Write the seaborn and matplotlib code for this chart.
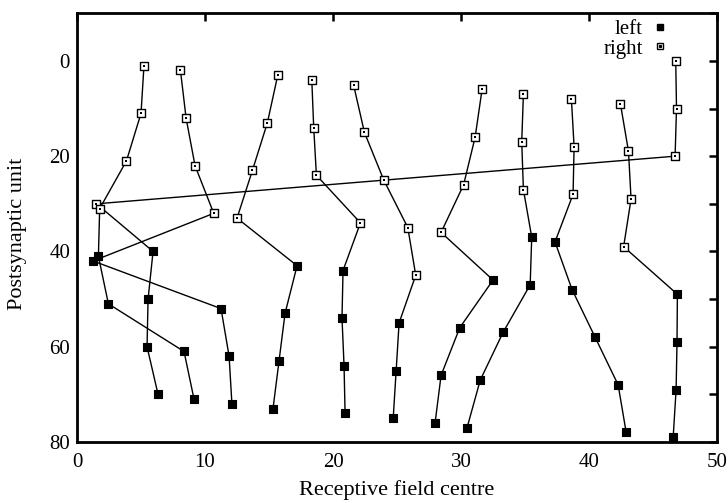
import numpy as np
import pandas as pd
import matplotlib
matplotlib.use("Agg")
import matplotlib.pyplot as plt
from matplotlib.lines import Line2D
import seaborn as sns

# Receptive field centre of each postsynaptic unit (index = unit number)
rf_centre = [
    46.77, 5.23, 8.08, 15.68, 18.34, 21.60, 31.64, 34.87, 38.62, 42.45,
    46.83, 5.00, 8.52, 14.87, 18.49, 22.45, 31.10, 34.74, 38.83, 43.08,
    46.72, 3.86, 9.22, 13.70, 18.70, 23.96, 30.20, 34.87, 38.75, 43.28,
    1.52, 1.77, 10.68, 12.50, 22.14, 25.84, 28.44, 35.52, 37.34, 42.70,
    5.94, 1.67, 1.25, 17.19, 20.78, 26.46, 32.50, 35.40, 38.67, 46.90,
    5.55, 2.45, 11.25, 16.25, 20.70, 25.16, 29.90, 33.28, 40.47, 46.87,
    5.47, 8.36, 11.88, 15.78, 20.86, 24.93, 28.44, 31.50, 42.27, 46.80,
    6.33, 9.14, 12.10, 15.31, 20.94, 24.70, 27.97, 30.47, 42.90, 46.57,
]
# Units dominated by the right eye (open squares); the rest are left
right_units = list(range(0, 37)) + [39, 45]
x_ticks = [0, 10, 20, 30, 40, 50]
y_ticks = [0, 20, 40, 60, 80]

units = np.arange(len(rf_centre))
df = pd.DataFrame({
    "unit": units,
    "centre": rf_centre,
    "column": units % 10,
    "eye": ["right" if u in right_units else "left" for u in units],
})
df = df.sort_values(["column", "unit"]).reset_index(drop=True)

sns.set_theme(style="white")
plt.rcParams["font.family"] = ["Liberation Serif", "DejaVu Serif"]
plt.rcParams["text.color"] = "black"

fig = plt.figure(figsize=(7.28, 5.03), dpi=100)
ax = fig.add_axes([0.1058, 0.1213, 0.8792, 0.8523])

sns.lineplot(data=df, x="centre", y="unit", units="column", estimator=None,
             sort=False, color="black", lw=1.0, ax=ax, legend=False)

left = df[df["eye"] == "left"]
right = df[df["eye"] == "right"]
sns.scatterplot(data=left, x="centre", y="unit", marker="s", s=30,
                color="black", edgecolor="black", linewidth=0.8, ax=ax,
                zorder=3, legend=False)
sns.scatterplot(data=right, x="centre", y="unit", marker="s", s=30,
                facecolor="white", edgecolor="black", linewidth=1.0, ax=ax,
                zorder=3, legend=False)
sns.scatterplot(data=right, x="centre", y="unit", marker="s", s=2,
                color="black", linewidth=0, ax=ax, zorder=4, legend=False)

ax.set_xlim(0, 50)
ax.set_ylim(80, -10)
ax.set_xticks(x_ticks)
ax.set_yticks(y_ticks)
ax.set_yticks(np.arange(-10, 81, 10), minor=True)
ax.set_xticklabels([str(t) for t in x_ticks])
ax.set_yticklabels([str(t) for t in y_ticks])
ax.tick_params(axis="both", which="both", direction="in", top=True, right=True,
               width=1.8, labelsize=15, colors="black")
ax.tick_params(axis="x", which="major", length=6, pad=8)
ax.tick_params(axis="y", which="major", length=6, pad=5)
ax.tick_params(axis="y", which="minor", length=6)
for sp in ax.spines.values():
    sp.set_linewidth(2.0)
    sp.set_color("black")

ax.set_xlabel("Receptive field centre", fontsize=16, color="black")
ax.set_ylabel("Postsynaptic unit", fontsize=16, color="black")
ax.xaxis.set_label_coords(0.5, -0.09)
ax.yaxis.set_label_coords(-0.078, 0.485)

h_left = Line2D([], [], ls="none", marker="s", ms=5, mfc="black", mec="black")
h_right = (Line2D([], [], ls="none", marker="s", ms=5, mfc="white", mec="black", mew=1.0),
           Line2D([], [], ls="none", marker="s", ms=1.3, mfc="black", mec="black"))
ax.legend([h_left, h_right], ["left", "right"], loc="upper right",
          frameon=False, markerfirst=False, fontsize=15, handlelength=0.6,
          handletextpad=0.5, labelspacing=0.0, borderaxespad=0.0,
          borderpad=0.3, bbox_to_anchor=(0.93, 1.0), labelcolor="black")

fig.savefig("out.png", dpi=100)
